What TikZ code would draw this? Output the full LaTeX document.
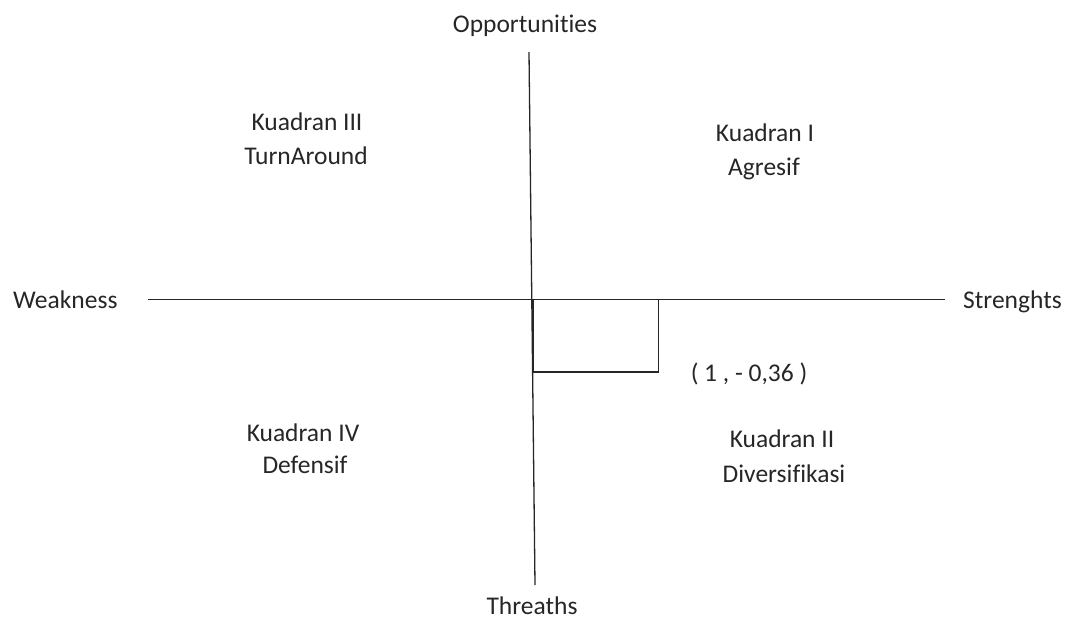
\documentclass[tikz,border=0pt]{standalone}
\usepackage{fontspec}
\setmainfont{Carlito}[Ligatures={NoCommon,NoRequired,NoContextual}]
\begin{document}
\begin{tikzpicture}[x=1pt,y=-1pt,
  lbl/.style={inner sep=0pt,font=\fontsize{25.5}{30}\selectfont,text=black!85},
  axis/.style={line width=1.3pt,draw=black!85},
  boxline/.style={line width=1.3pt,draw=black!85}]
\useasboundingbox (0,0) rectangle (1081,622);
% axis end points
\coordinate (vtop) at (529,52);
\coordinate (vbot) at (535,585);
\coordinate (hleft) at (148,299.5);
\coordinate (hright) at (945,299.5);
\coordinate (bx0) at (533,299.5);
\coordinate (bx1) at (658.5,299.5);
\coordinate (bx2) at (658.5,372);
\coordinate (bx3) at (533,372);
\draw[axis] (vtop) -- (vbot);
\draw[axis] (hleft) -- (hright);
\draw[boxline] (bx0) -- (bx3) -- (bx2) -- (bx1);
% labels
\node[lbl,anchor=base] (opp) at (525,32) {Opportunities};
\node[lbl,anchor=base] (thr) at (532,614) {Threaths};
\node[lbl,anchor=base west] (weak) at (13,308) {Weakness};
\node[lbl,anchor=base west] (str) at (963,308) {Strenghts};
\node[lbl,anchor=base] (pt) at (749,381) {( 1 , - 0,36 )};
\node[lbl,anchor=base] (k3a) at (307,130) {Kuadran III};
\node[lbl,anchor=base] (k3b) at (306,164) {TurnAround};
\node[lbl,anchor=base] (k1a) at (765,141) {Kuadran I};
\node[lbl,anchor=base] (k1b) at (764,175) {Agresif};
\node[lbl,anchor=base] (k4a) at (303,441) {Kuadran IV};
\node[lbl,anchor=base] (k4b) at (305,473) {Defensif};
\node[lbl,anchor=base] (k2a) at (782,447) {Kuadran II};
\node[lbl,anchor=base] (k2b) at (784,482) {Diversifikasi};
\end{tikzpicture}
\end{document}
